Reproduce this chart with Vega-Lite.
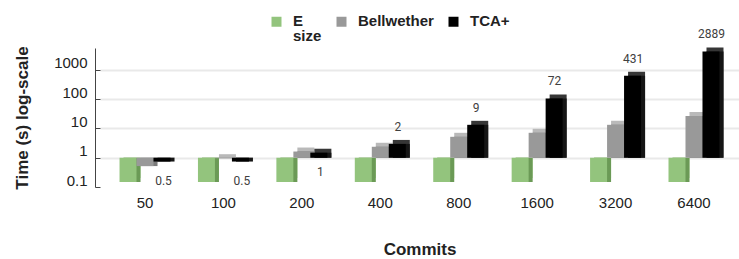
{
  "$schema": "https://vega.github.io/schema/vega-lite/v6.json",
  "width": 639,
  "height": 139,
  "autosize": "none",
  "padding": {"left": 100, "top": 48, "right": 0, "bottom": 72},
  "background": "white",
  "config": {"view": {"stroke": null}, "font": "Liberation Sans", "style": {"guide-label": {"lineHeight": 15}}},
  "data": {"values": [
    {"commits": 50, "method": "E_size", "value": 0.1},
    {"commits": 50, "method": "Bellwether", "value": 0.35},
    {"commits": 50, "method": "TCA+", "value": 0.5},
    {"commits": 100, "method": "E_size", "value": 0.1},
    {"commits": 100, "method": "Bellwether", "value": 0.65},
    {"commits": 100, "method": "TCA+", "value": 0.5},
    {"commits": 200, "method": "E_size", "value": 0.1},
    {"commits": 200, "method": "Bellwether", "value": 1.1},
    {"commits": 200, "method": "TCA+", "value": 1},
    {"commits": 400, "method": "E_size", "value": 0.1},
    {"commits": 400, "method": "Bellwether", "value": 1.6},
    {"commits": 400, "method": "TCA+", "value": 2},
    {"commits": 800, "method": "E_size", "value": 0.1},
    {"commits": 800, "method": "Bellwether", "value": 3.5},
    {"commits": 800, "method": "TCA+", "value": 9},
    {"commits": 1600, "method": "E_size", "value": 0.1},
    {"commits": 1600, "method": "Bellwether", "value": 4.8},
    {"commits": 1600, "method": "TCA+", "value": 72},
    {"commits": 3200, "method": "E_size", "value": 0.1},
    {"commits": 3200, "method": "Bellwether", "value": 9},
    {"commits": 3200, "method": "TCA+", "value": 431},
    {"commits": 6400, "method": "E_size", "value": 0.1},
    {"commits": 6400, "method": "Bellwether", "value": 18},
    {"commits": 6400, "method": "TCA+", "value": 2889}
  ]},
  "encoding": {
    "x": {
      "field": "commits", "type": "ordinal",
      "sort": [50, 100, 200, 400, 800, 1600, 3200, 6400],
      "scale": {"paddingInner": 0.35, "paddingOuter": 0.249},
      "axis": {
        "title": "Commits", "labelAngle": 0, "domain": false, "ticks": false,
        "labelPadding": 8, "labelFontSize": 15, "labelColor": "#222222",
        "titleFontSize": 17, "titleFontWeight": "bold", "titleColor": "#222222",
        "titlePadding": 31
      }
    },
    "xOffset": {
      "field": "method", "type": "nominal",
      "sort": ["E_size", "Bellwether", "TCA+"],
      "scale": {"domain": ["E_size", "Bellwether", "TCA+"], "paddingInner": 0, "paddingOuter": 0}
    }
  },
  "resolve": {"scale": {"color": "independent", "xOffset": "independent"}},
  "layer": [
    {
      "mark": {"type": "bar", "yOffset": -9},
      "encoding": {
        "xOffset": {
          "field": "method", "type": "nominal",
          "scale": {"domain": ["E_size", "Bellwether", "TCA+"], "paddingInner": 0, "paddingOuter": 0, "range": [4, 55]}
        },
        "y": {"field": "value", "type": "quantitative",
              "scale": {"type": "log", "domain": [0.1, 5623], "nice": false},
              "axis": {
                "title": "Time (s) log-scale", "values": [0.1, 1, 10, 100, 1000],
                "format": "~g", "offset": 5, "tickSize": -5, "labelPadding": 13,
                "labelOffset": -7, "labelFontSize": 15, "labelColor": "#222222",
                "domainColor": "#444444", "tickColor": "#444444",
                "grid": true, "gridColor": "#e9e9e9", "gridWidth": 2,
                "gridOpacity": {"condition": {"test": "datum.value < 0.5", "value": 0}, "value": 1},
                "titleFontSize": 17, "titleFontWeight": "bold", "titleColor": "#222222",
                "titlePadding": 22
              }},
        "y2": {"datum": 1},
        "color": {"field": "method", "type": "nominal", "legend": null,
                  "scale": {"domain": ["E_size", "Bellwether", "TCA+"], "range": ["#acd697", "#b9b9b9", "#363636"]}}
      }
    },
    {
      "mark": {"type": "bar", "yOffset": -5},
      "encoding": {
        "xOffset": {
          "field": "method", "type": "nominal",
          "scale": {"domain": ["E_size", "Bellwether", "TCA+"], "paddingInner": 0, "paddingOuter": 0, "range": [4, 55]}
        },
        "y": {"field": "value", "type": "quantitative"},
        "y2": {"datum": 1},
        "color": {"field": "method", "type": "nominal", "legend": null,
                  "scale": {"domain": ["E_size", "Bellwether", "TCA+"], "range": ["#6b9a56", "#7b7b7b", "#151515"]}}
      }
    },
    {
      "mark": {"type": "bar", "yOffset": -5},
      "encoding": {
        "y": {"field": "value", "type": "quantitative"},
        "y2": {"datum": 1},
        "color": {"field": "method", "type": "nominal",
                  "scale": {"domain": ["E_size", "Bellwether", "TCA+"], "range": ["#93c47d", "#999999", "#000000"]},
                  "legend": {
                    "title": null, "orient": "none", "direction": "horizontal",
                    "legendX": 169, "legendY": -30,
                    "symbolType": "M-1,-1.8H1V0.2H-1Z", "symbolSize": 100, "symbolStrokeWidth": 0,
                    "labelFont": "Liberation Sans", "labelFontWeight": "bold", "labelFontSize": 15,
                    "labelBaseline": "alphabetic",
                    "labelColor": "#222222", "labelOffset": 9, "columnPadding": 12,
                    "labelExpr": "datum.label == 'E_size' ? ['E', '   size'] : [datum.label, ' ']"
                  }}
      }
    },
    {
      "transform": [{"filter": "datum.method == 'TCA+' && datum.value > 1"}],
      "mark": {"type": "text", "dy": -22, "dx": -8, "font": "Roboto", "fontSize": 12, "color": "#404040"},
      "encoding": {
        "y": {"field": "value", "type": "quantitative"},
        "text": {"field": "value", "type": "quantitative", "format": "~g"}
      }
    },
    {
      "transform": [{"filter": "datum.method == 'TCA+' && datum.value <= 1"}],
      "mark": {"type": "text", "dy": 14, "dx": -7, "font": "Roboto", "fontSize": 12, "color": "#404040"},
      "encoding": {
        "y": {"field": "value", "type": "quantitative"},
        "text": {"field": "value", "type": "quantitative", "format": "~g"}
      }
    }
  ]
}
